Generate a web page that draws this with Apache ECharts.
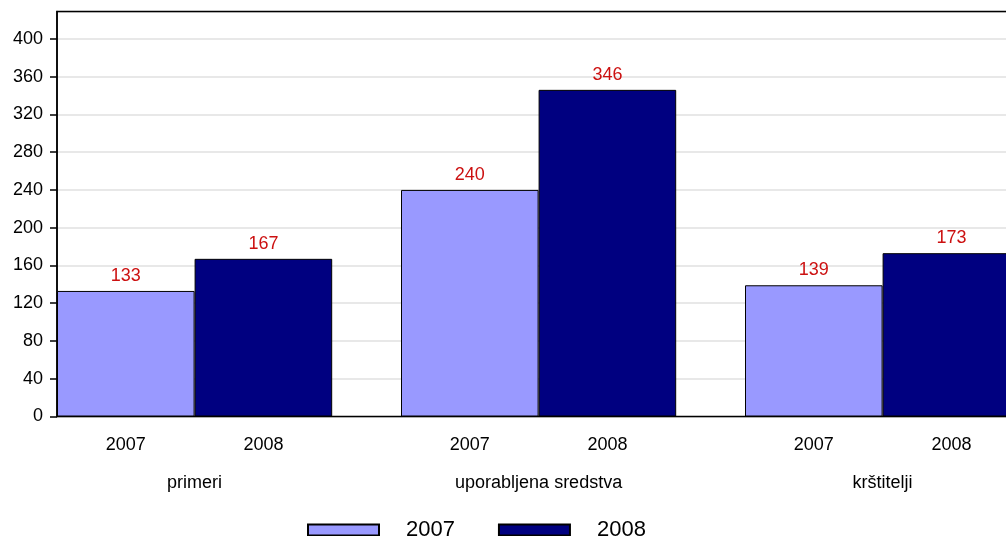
<!DOCTYPE html>
<html>
<head>
<meta charset="utf-8">
<script src="https://cdn.jsdelivr.net/npm/echarts@6/dist/echarts.min.js"></script>
<style>
html,body{margin:0;padding:0;background:#fff;}
#c{width:1006px;height:536px;}
</style>
</head>
<body>
<div id="c"></div>
<script>
const categories = ['primeri', 'uporabljena sredstva', 'krštitelji'];
const years = ['2007', '2008'];
const values2007 = [133, 240, 139];
const values2008 = [167, 346, 173];
const yMin = 0;
const yMax = 429;
const yInterval = 40;

const FONT = '"Liberation Sans", Arial, sans-serif';
const chart = echarts.init(document.getElementById('c'), null, {renderer: 'canvas'});

const labelStyle = {
  show: true, position: 'top', distance: 6,
  color: '#cc1111', fontSize: 18, fontFamily: FONT
};

chart.setOption({
  animation: false,
  backgroundColor: '#fff',
  grid: [
    {left: 57, top: 11.5, width: 1000, bottom: 119.5, show: true, outerBoundsMode: 'none',
     borderColor: '#000', borderWidth: 1.5, backgroundColor: 'transparent', z: 3},
    {left: 22.6, top: 11.5, width: 1032, bottom: 119.5, outerBoundsMode: 'none'}
  ],
  xAxis: [
    {gridIndex: 0, type: 'value', show: false, min: 0, max: 1},
    {gridIndex: 1, type: 'category', data: categories, boundaryGap: true,
     axisLine: {show: false}, axisTick: {show: false}, splitLine: {show: false},
     axisLabel: {
       interval: 0, margin: 16, color: '#000', fontFamily: FONT,
       formatter: function (v) { return '{y|' + years[0] + '}{y|' + years[1] + '}\n{n|' + v + '}'; },
       rich: {
         y: {width: 137.6, align: 'center', fontSize: 18, lineHeight: 26, fontFamily: FONT, color: '#000'},
         n: {fontSize: 18, lineHeight: 50, fontFamily: FONT, color: '#000'}
       }
     }}
  ],
  yAxis: [
    {gridIndex: 0, type: 'value', min: yMin, max: yMax, interval: yInterval,
     axisLine: {show: true, lineStyle: {color: '#000', width: 1.5}},
     axisTick: {show: true, length: 7, lineStyle: {color: '#000', width: 1.5}},
     splitLine: {show: true, lineStyle: {color: '#e0e0e0', width: 1.5}},
     axisLabel: {margin: 14, color: '#000', fontSize: 18, fontFamily: FONT,
       showMaxLabel: false,
       formatter: function (v) { return v % yInterval === 0 ? String(v) : ''; }}},
    {gridIndex: 1, type: 'value', min: yMin, max: yMax, show: false}
  ],
  legend: {
    data: years, left: 302, top: 514, itemWidth: 71, itemHeight: 11, itemGap: 43,
    icon: 'rect',
    textStyle: {fontSize: 22, fontFamily: FONT, color: '#000', padding: [0, 0, 0, 22]}
  },
  series: [
    {name: years[0], type: 'bar', xAxisIndex: 1, yAxisIndex: 1, data: values2007,
     barCategoryGap: '20%', barGap: '0%',
     itemStyle: {color: '#9999ff', borderColor: '#000', borderWidth: 1},
     label: labelStyle, z: 4},
    {name: years[1], type: 'bar', xAxisIndex: 1, yAxisIndex: 1, data: values2008,
     barCategoryGap: '20%', barGap: '0%',
     itemStyle: {color: '#000080', borderColor: '#000', borderWidth: 1},
     label: labelStyle, z: 4}
  ]
});
</script>
</body>
</html>
